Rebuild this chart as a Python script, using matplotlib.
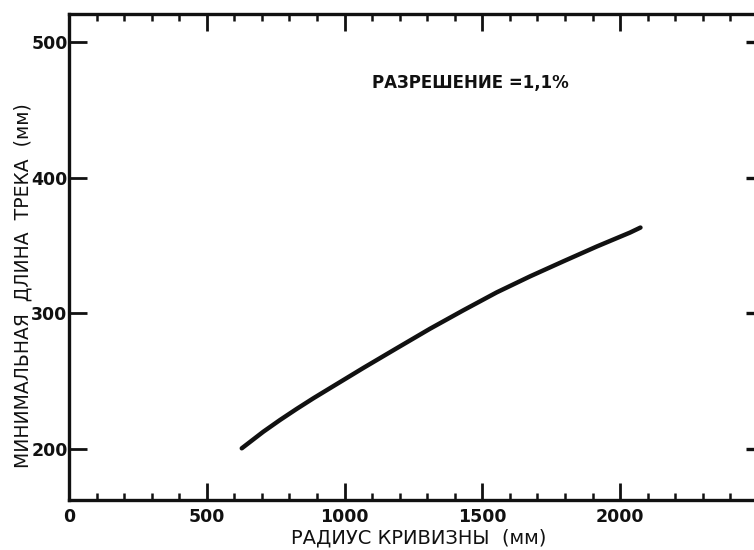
import matplotlib
matplotlib.use("Agg")
import matplotlib.pyplot as plt
from matplotlib.ticker import MultipleLocator

# радиус кривизны (мм) и минимальная длина трека (мм)
radius = [627, 705, 766, 826, 887, 947, 1068, 1189, 1310, 1431, 1552, 1673,
          1794, 1915, 2036, 2074]
track_len = [200.5, 212.7, 221.4, 229.5, 237.4, 244.8, 259.7, 274.2, 288.6,
             302.2, 315.4, 327.2, 338.3, 349.2, 359.5, 363.2]

x_ticks = [0, 500, 1000, 1500, 2000]
y_ticks = [200, 300, 400, 500]

FONT = ["DejaVu Sans"]
INK = "#111111"


def plot_track_length():
    fig = plt.figure(figsize=(7.54, 5.5), dpi=100)
    ax = fig.add_axes([69 / 754, 50 / 550, 685 / 754, 486 / 550])

    ax.plot(radius, track_len, color=INK, lw=3.2, solid_capstyle="round",
            solid_joinstyle="round")

    ax.set_xlim(0, 2486)
    ax.set_ylim(162.4, 520.6)

    ax.set_xticks(x_ticks)
    ax.xaxis.set_minor_locator(MultipleLocator(100))
    ax.set_yticks(y_ticks)

    # короткие риски справа
    ax_r = ax.twinx()
    ax_r.set_ylim(ax.get_ylim())
    ax_r.set_yticks(y_ticks)
    ax_r.set_yticklabels([])
    ax_r.tick_params(axis="y", direction="in", length=6, width=2.4, color=INK)
    for s in ax_r.spines.values():
        s.set_visible(False)

    for s in ["left", "bottom", "top"]:
        ax.spines[s].set_linewidth(2.4)
        ax.spines[s].set_color(INK)
    ax.spines["right"].set_visible(False)

    ax.tick_params(axis="x", which="major", direction="in", length=12, width=2,
                   top=True, color=INK, pad=6)
    ax.tick_params(axis="x", which="minor", direction="in", length=5, width=1.8,
                   top=True, color=INK)
    ax.tick_params(axis="y", which="major", direction="in", length=13, width=2,
                   color=INK, pad=1)

    for lab in ax.get_xticklabels() + ax.get_yticklabels():
        lab.set_family(FONT)
        lab.set_fontsize(12.5)
        lab.set_fontweight("bold")
        lab.set_color(INK)

    ax.set_xlabel("РАДИУС КРИВИЗНЫ  (мм)", family=FONT, fontsize=14,
                  color=INK)
    ax.xaxis.set_label_coords(0.511, -0.058)
    ax.set_ylabel("МИНИМАЛЬНАЯ  ДЛИНА  ТРЕКА  (мм)", family=FONT, fontsize=13.5,
                  color=INK)
    ax.yaxis.set_label_coords(-0.053, 0.442)

    ax.text(0.442, 0.858, "РАЗРЕШЕНИЕ =1,1%", transform=ax.transAxes,
            family=FONT, fontsize=12, fontweight="bold", color=INK,
            ha="left", va="center")

    fig.savefig("out.png", dpi=100)
    plt.close(fig)


if __name__ == "__main__":
    plot_track_length()
